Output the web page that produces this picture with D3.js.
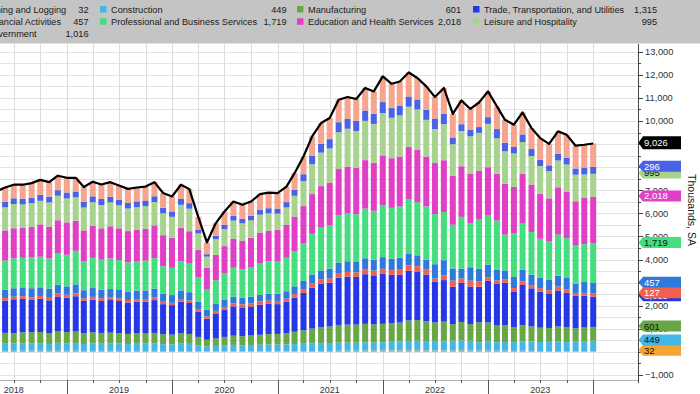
<!DOCTYPE html>
<html>
<head>
<meta charset="utf-8">
<script src="https://cdn.jsdelivr.net/npm/d3@7"></script>
<style>
  html, body { margin: 0; padding: 0; background: #fff; }
  svg { display: block; font-family: "Liberation Sans", Arial, sans-serif; }
</style>
</head>
<body>
<div id="chart"></div>
<script>
// JOLTS job openings by industry, thousands, SA (Apr 2018 .. Dec 2023)
var months = [
  "2018-04","2018-05","2018-06","2018-07","2018-08","2018-09","2018-10","2018-11","2018-12",
  "2019-01","2019-02","2019-03","2019-04","2019-05","2019-06","2019-07","2019-08","2019-09","2019-10","2019-11","2019-12",
  "2020-01","2020-02","2020-03","2020-04","2020-05","2020-06","2020-07","2020-08","2020-09","2020-10","2020-11","2020-12",
  "2021-01","2021-02","2021-03","2021-04","2021-05","2021-06","2021-07","2021-08","2021-09","2021-10","2021-11","2021-12",
  "2022-01","2022-02","2022-03","2022-04","2022-05","2022-06","2022-07","2022-08","2022-09","2022-10","2022-11","2022-12",
  "2023-01","2023-02","2023-03","2023-04","2023-05","2023-06","2023-07","2023-08","2023-09","2023-10","2023-11","2023-12"
];

var total = [
  6950,7120,7240,7240,7310,7450,7350,7630,7540,
  7540,7140,7370,7250,7350,7210,7060,7120,7160,7350,6880,6730,
  7240,7050,5850,4740,5580,6080,6510,6370,6510,6830,6900,6880,
  7160,7740,8460,9330,9910,10130,10920,11040,10950,11430,11280,11930,
  11610,11710,12100,11860,11500,11040,11430,10310,10890,10520,10800,11280,
  10630,10050,9840,10370,9690,9260,9010,9550,9400,8930,8970,9026
];

var mining = [
  40,45,48,46,50,48,44,52,47,
  50,42,45,43,46,44,40,42,40,43,38,36,
  40,38,30,20,18,20,22,20,21,20,22,24,
  26,30,34,38,40,42,48,50,52,55,56,60,
  58,60,60,62,60,58,60,55,58,55,56,55,
  50,48,45,48,44,40,38,40,36,34,35,32
];
var construction = [
  300,310,320,330,320,310,300,340,320,
  330,300,320,310,330,320,300,310,320,330,300,290,
  320,310,260,217,240,260,280,270,280,290,300,295,
  300,310,320,330,340,340,360,350,345,360,350,360,
  380,390,420,420,410,420,420,430,440,430,360,433,
  370,380,380,400,410,390,400,420,390,430,440,449
];
var manufacturing = [
  460,470,440,470,480,500,470,510,490,
  500,470,480,470,460,450,440,450,440,450,430,420,
  440,430,360,290,330,370,400,390,410,433,450,460,
  490,530,580,640,690,720,760,780,790,800,790,797,
  800,820,880,900,860,800,830,720,800,720,870,793,
  720,730,650,700,650,620,600,640,640,560,580,601
];
var trade = [
  1380,1400,1470,1450,1400,1440,1420,1500,1490,
  1530,1400,1420,1380,1410,1390,1360,1370,1380,1420,1300,1280,
  1380,1340,1100,910,1080,1180,1270,1250,1260,1300,1310,1290,
  1350,1480,1620,1780,1880,1900,2050,2080,2060,2150,2120,2166,
  2100,2080,2150,2080,2020,1760,1800,1620,1690,1620,1540,1807,
  1800,1840,1520,1750,1650,1560,1470,1560,1500,1400,1380,1315
];
var information = [
  110,112,113,120,118,125,110,120,130,
  125,110,120,118,115,112,110,115,112,118,105,100,
  112,108,100,100,110,120,125,130,135,143,140,138,
  140,150,160,175,180,190,200,205,200,210,205,217,
  200,210,240,250,220,140,210,260,190,260,220,143,
  150,140,170,160,140,150,160,170,140,130,120,127
];
var financial = [
  350,355,364,350,390,370,400,380,360,
  390,350,380,370,360,365,350,360,370,380,340,335,
  370,360,320,290,300,300,290,285,290,290,300,310,
  320,340,360,390,400,410,450,460,470,480,470,503,
  500,520,490,470,420,620,650,530,430,580,550,550,
  480,390,480,500,450,440,450,470,520,400,470,457
];
var professional = [
  1250,1270,1300,1310,1340,1330,1300,1380,1370,
  1450,1260,1310,1300,1330,1300,1280,1290,1300,1320,1200,1180,
  1260,1240,1060,870,1020,1150,1260,1230,1280,1373,1400,1420,
  1450,1520,1620,1760,1850,1880,2050,2080,2050,2150,2120,2240,
  2200,2220,2380,2300,2310,2170,2090,1890,2240,1920,2160,2123,
  2120,1550,1900,2000,1850,1700,1660,1780,1700,1650,1640,1719
];
var education = [
  1280,1300,1300,1290,1310,1400,1380,1420,1400,
  1300,1330,1380,1360,1390,1370,1350,1360,1370,1420,1340,1300,
  1450,1400,1180,950,1100,1180,1250,1230,1260,1300,1320,1350,
  1420,1500,1620,1720,1800,1850,2000,2020,2000,2100,2080,2166,
  2150,2160,2250,2280,2160,2210,2240,2120,2190,2120,2100,2093,
  2020,2210,2000,2150,2050,1950,1870,2050,2000,1920,2000,2018
];
var leisure = [
  960,1000,1050,1020,1030,1020,1050,1060,1040,
  1020,990,1030,1010,1040,1000,980,970,985,1010,950,910,
  1000,975,720,480,680,740,790,760,760,794,760,700,
  760,900,1080,1300,1450,1480,1600,1640,1600,1700,1680,1833,
  1750,1780,1750,1740,1590,1470,1560,1370,1530,1630,1630,1880,
  1540,1400,1450,1380,1240,1200,1180,1160,1190,1150,1020,995
];
var otherServices = [
  230,240,245,250,232,260,250,240,255,
  230,245,250,260,240,235,245,250,240,250,235,230,
  250,240,170,103,150,180,200,200,205,217,220,215,
  230,260,300,350,380,400,430,420,440,450,440,477,
  420,430,440,430,430,460,460,290,290,290,250,286,
  400,370,280,330,300,270,250,300,300,270,300,296
];
var government = [
  590,618,590,604,640,647,626,628,638,
  615,643,635,629,629,624,605,603,603,609,642,649,
  618,609,550,510,552,580,623,605,609,670,678,678,
  674,720,766,847,900,918,972,955,943,975,969,1111,
  1052,1040,1040,928,1020,932,1110,1025,1032,895,1064,1117,
  980,992,965,952,906,940,932,960,984,986,985,1016
];

var keys = ["mining","construction","manufacturing","trade","information","financial",
            "professional","education","leisure","otherServices","government"];
var seriesData = {mining: mining, construction: construction, manufacturing: manufacturing,
  trade: trade, information: information, financial: financial, professional: professional,
  education: education, leisure: leisure, otherServices: otherServices, government: government};
var labels = {total: "Total", mining: "Mining and Logging", construction: "Construction",
  manufacturing: "Manufacturing", trade: "Trade, Transportation, and Utilities",
  information: "Information", financial: "Financial Activities",
  professional: "Professional and Business Services", education: "Education and Health Services",
  leisure: "Leisure and Hospitality", otherServices: "Other Services", government: "Government"};
var colors = {total: "#000000", mining: "#f5a331", construction: "#45b7e6", manufacturing: "#67a746",
  trade: "#2637e8", information: "#f0604d", financial: "#2f78dc", professional: "#44de7e",
  education: "#e03fc6", leisure: "#a7d38f", otherServices: "#4a63e6", government: "#f6a48e"};
var darkText = {mining: true, construction: true, manufacturing: true, professional: true, leisure: true};

var width = 700, height = 394;
var plot = {left: 0, right: 638, top: 44, bottom: 380};

var parse = d3.timeParse("%Y-%m");
// Bloomberg puts monthly points at month end
var dates = months.map(function(m) { return d3.timeMonth.offset(parse(m), 1); });

var rows = months.map(function(m, i) {
  var r = {date: dates[i]};
  keys.forEach(function(k) { r[k] = seriesData[k][i]; });
  return r;
});

var x = d3.scaleTime()
  .domain([new Date(2019, 0, 1), new Date(2024, 0, 1)])
  .range([66.8, 593.2]);
var y = d3.scaleLinear()
  .domain([-1000, 13000])
  .range([375, 51.7]);

var svg = d3.select("#chart").append("svg")
  .attr("width", width)
  .attr("height", height);

svg.append("defs").append("clipPath").attr("id", "plotclip")
  .append("rect")
  .attr("x", plot.left).attr("y", plot.top)
  .attr("width", plot.right - plot.left).attr("height", plot.bottom - plot.top);

// grid
var grid = svg.append("g").attr("class", "grid");
grid.selectAll(".hgrid")
  .data(d3.range(-1000, 13501, 500))
  .enter().append("line")
  .attr("x1", plot.left).attr("x2", plot.right)
  .attr("y1", function(d) { return Math.round(y(d)) + 0.5; })
  .attr("y2", function(d) { return Math.round(y(d)) + 0.5; })
  .attr("stroke", "#e2e2e2")
  .attr("stroke-width", 1);

var quarters = d3.timeMonth.every(3).range(new Date(2018, 0, 1), new Date(2024, 0, 2));
grid.selectAll(".vgrid")
  .data(quarters)
  .enter().append("line")
  .attr("x1", function(d) { return Math.round(x(d)) + 0.5; })
  .attr("x2", function(d) { return Math.round(x(d)) + 0.5; })
  .attr("y1", plot.top).attr("y2", plot.bottom)
  .attr("stroke", "#dcdcdc")
  .attr("stroke-width", 1);

// stacked bars
var stacked = d3.stack().keys(keys)(rows);
var barW = 6;
var bars = svg.append("g").attr("clip-path", "url(#plotclip)");
bars.selectAll(".layer")
  .data(stacked)
  .enter().append("g")
  .attr("fill", function(d) { return colors[d.key]; })
  .selectAll("rect")
  .data(function(d) { return d; })
  .enter().append("rect")
  .attr("x", function(d) { return x(d.data.date) - barW / 2; })
  .attr("width", barW)
  .attr("y", function(d) { return y(d[1]); })
  .attr("height", function(d) { return Math.max(0, y(d[0]) - y(d[1])); });

// total line
var line = d3.line()
  .x(function(d, i) { return x(dates[i]); })
  .y(function(d) { return y(d); });
svg.append("path")
  .attr("clip-path", "url(#plotclip)")
  .attr("d", line(total))
  .attr("fill", "none")
  .attr("stroke", "#000")
  .attr("stroke-width", 2.2)
  .attr("stroke-linejoin", "round");

// bottom axis
svg.append("line")
  .attr("x1", plot.left).attr("x2", plot.right)
  .attr("y1", plot.bottom + 0.5).attr("y2", plot.bottom + 0.5)
  .attr("stroke", "#b0b0b0");
svg.selectAll(".qtick")
  .data(quarters)
  .enter().append("line")
  .attr("x1", function(d) { return Math.round(x(d)) + 0.5; })
  .attr("x2", function(d) { return Math.round(x(d)) + 0.5; })
  .attr("y1", plot.bottom)
  .attr("y2", function(d) { return d.getMonth() === 0 ? height : plot.bottom + 3; })
  .attr("stroke", "#555");
var years = [2018, 2019, 2020, 2021, 2022, 2023];
svg.selectAll(".ylabel")
  .data(years)
  .enter().append("text")
  .attr("x", function(d) { return x(new Date(d, 6, 1)); })
  .attr("y", 393)
  .attr("text-anchor", "middle")
  .attr("font-size", "9px")
  .attr("fill", "#333")
  .text(function(d) { return d; });

// right axis
svg.append("line")
  .attr("x1", plot.right + 0.5).attr("x2", plot.right + 0.5)
  .attr("y1", plot.top).attr("y2", plot.bottom + 3)
  .attr("stroke", "#444");
svg.selectAll(".ytick")
  .data(d3.range(-1000, 13001, 500))
  .enter().append("line")
  .attr("x1", plot.right).attr("x2", function(d) { return d % 1000 === 0 ? plot.right + 5 : plot.right + 3; })
  .attr("y1", function(d) { return Math.round(y(d)) + 0.5; })
  .attr("y2", function(d) { return Math.round(y(d)) + 0.5; })
  .attr("stroke", "#444");
svg.selectAll(".ytlabel")
  .data(d3.range(-1000, 13001, 1000))
  .enter().append("text")
  .attr("x", plot.right + 7)
  .attr("y", function(d) { return y(d) + 3.3; })
  .attr("font-size", "9.3px")
  .attr("fill", "#333")
  .text(function(d) { return d3.format(",")(d); });

svg.append("text")
  .attr("transform", "translate(688,210)rotate(90)")
  .attr("text-anchor", "middle")
  .attr("font-size", "10.5px")
  .attr("fill", "#222")
  .text("Thousands, SA");

// value tags on the right
var last = months.length - 1;
var tags = stacked.map(function(s) {
  return {key: s.key, value: seriesData[s.key][last], top: s[last][1]};
});
tags.push({key: "total", value: total[last], top: total[last]});
var fmt = d3.format(",");
var tagG = svg.append("g");
tags.forEach(function(t) {
  var yc = y(t.top) - 0.8;
  var h = t.key === "total" ? 13 : 11;
  var g = tagG.append("g");
  g.append("path")
    .attr("d", "M" + (plot.right + 0.5) + "," + yc +
      "L" + (plot.right + 5) + "," + (yc - h / 2) +
      "L681," + (yc - h / 2) + "L681," + (yc + h / 2) +
      "L" + (plot.right + 5) + "," + (yc + h / 2) + "Z")
    .attr("fill", colors[t.key]);
  g.append("text")
    .attr("x", plot.right + 6)
    .attr("y", yc + 3.4)
    .attr("font-size", "9.5px")
    .attr("fill", darkText[t.key] ? "#111" : "#fff")
    .text(fmt(t.value));
});

// legend (first columns run off the left edge, as in the source)
svg.append("rect")
  .attr("x", 0).attr("y", 0)
  .attr("width", width).attr("height", 43.5)
  .attr("fill", "#c4c4c4");
var legendKeys = ["total"].concat(keys);
var colSwatch = [-220, -25, 100, 297, 473];
var colValue = [-110, 88.5, 286.5, 461, 657];
var rowY = [9.3, 21.6, 34];
var leg = svg.append("g").attr("font-size", "9.2px");
legendKeys.forEach(function(k, i) {
  var c = i % 5, r = Math.floor(i / 5);
  var v = k === "total" ? total[last] : seriesData[k][last];
  leg.append("rect")
    .attr("x", colSwatch[c]).attr("y", rowY[r] - 3.3)
    .attr("width", 6.5).attr("height", 6.5)
    .attr("fill", colors[k]);
  leg.append("text")
    .attr("x", colSwatch[c] + 11)
    .attr("y", rowY[r] + 3.2)
    .attr("fill", "#1a1a1a")
    .text(labels[k]);
  leg.append("text")
    .attr("x", colValue[c])
    .attr("y", rowY[r] + 3.2)
    .attr("text-anchor", "end")
    .attr("fill", "#1a1a1a")
    .text(fmt(v));
});
</script>
</body>
</html>
